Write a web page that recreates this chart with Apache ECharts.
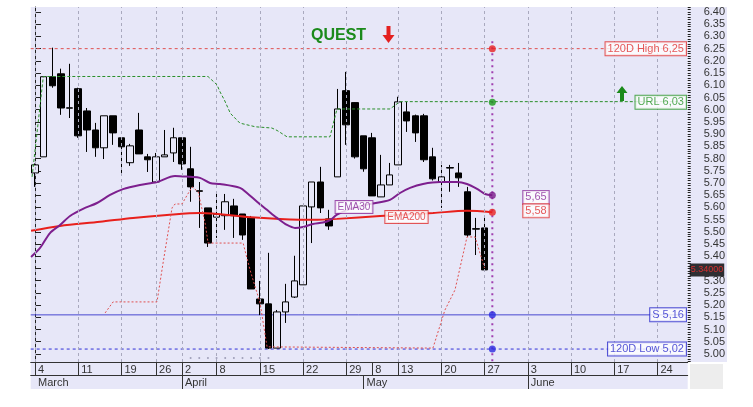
<!DOCTYPE html>
<html><head><meta charset="utf-8">
<script src="https://cdn.jsdelivr.net/npm/echarts@6/dist/echarts.min.js"></script>
<style>html,body{margin:0;padding:0;background:#fff}#c{width:753px;height:407px}</style>
</head><body><div id="c"></div>
<script>
// ---------- data ----------
const slotCount = 76;
const dayTicks = [[0,'4'],[5,'11'],[10,'19'],[14,'26'],[17,'2'],[21,'8'],[26,'15'],[31,'22'],[36,'29'],[39,'8'],[42,'13'],[47,'20'],[52,'27'],[57,'3'],[62,'10'],[67,'17'],[72,'24']];
const monthTicks = [[0,'March'],[17,'April'],[38,'May'],[57,'June']];
const gridLineSlots = [0,5,10,14,17,21,26,31,36,42,47,52,57,62,67,72];
const yMajorTicks = [5.00,5.05,5.10,5.15,5.20,5.25,5.30,5.35,5.40,5.45,5.50,5.55,5.60,5.65,5.70,5.75,5.80,5.85,5.90,5.95,6.00,6.05,6.10,6.15,6.20,6.25,6.30,6.35,6.40];
const yLabelTicks = [5.00,5.05,5.10,5.15,5.20,5.25,5.30,5.40,5.45,5.50,5.55,5.60,5.65,5.70,5.75,5.80,5.85,5.90,5.95,6.00,6.05,6.10,6.15,6.20,6.25,6.30,6.35,6.40];
// [open, close, low, high]
const candles = [
 [5.741,5.774,5.684,5.780],[5.807,6.135,5.807,6.135],[6.135,6.098,6.090,6.254],[6.147,6.007,5.979,6.168],
 [6.006,6.008,5.966,6.188],[6.086,5.893,5.885,6.090],[5.995,5.917,5.827,6.007],[5.917,5.844,5.807,5.946],
 [5.844,5.975,5.798,5.975],[5.975,5.905,5.856,5.975],[5.885,5.848,5.741,5.885],[5.783,5.852,5.770,5.860],
 [5.917,5.819,5.819,5.987],[5.807,5.795,5.745,5.819],[5.704,5.807,5.704,5.823],[5.807,5.815,5.807,5.917],
 [5.823,5.885,5.786,5.926],[5.885,5.778,5.754,5.885],[5.758,5.684,5.623,5.848],[5.668,5.666,5.516,5.704],
 [5.598,5.454,5.438,5.598],[5.560,5.572,5.475,5.659],[5.566,5.623,5.508,5.655],[5.606,5.566,5.475,5.635],
 [5.573,5.487,5.467,5.573],[5.557,5.266,5.266,5.565],[5.225,5.205,5.159,5.299],[5.205,5.024,5.020,5.414],
 [5.024,5.172,5.024,5.180],[5.172,5.213,5.127,5.287],[5.233,5.299,5.229,5.402],[5.283,5.606,5.283,5.606],
 [5.602,5.704,5.454,5.704],[5.704,5.598,5.577,5.766],[5.553,5.524,5.508,5.590],[5.725,6.003,5.725,6.085],
 [6.078,5.938,5.856,6.155],[6.029,5.807,5.800,6.030],[5.893,5.758,5.746,5.893],[5.885,5.647,5.647,5.905],
 [5.643,5.692,5.643,5.815],[5.692,5.733,5.692,5.782],[5.774,6.032,5.774,6.053],[5.991,5.954,5.909,6.032],
 [5.975,5.905,5.868,5.980],[5.975,5.795,5.786,5.983],[5.807,5.717,5.710,5.844],[5.704,5.725,5.598,5.774],
 [5.763,5.761,5.664,5.774],[5.741,5.721,5.684,5.782],[5.664,5.487,5.479,5.684],[5.513,5.511,5.405,5.557],
 [5.516,5.344,5.344,5.561]
];
const ema30 = [[-0.46,5.397],[0.58,5.434],[1.73,5.495],[2.89,5.528],[4.05,5.565],[5.55,5.594],[7.17,5.618],[8.68,5.651],
 [10.18,5.675],[12.14,5.692],[14.11,5.704],[16.19,5.729],[17.93,5.725],[19.08,5.721],[20.24,5.700],[21.39,5.696],
 [23.71,5.680],[24.52,5.659],[25.68,5.623],[26.83,5.590],[27.99,5.557],[29.15,5.528],[30.07,5.516],[31.0,5.520],
 [32.15,5.532],[33.31,5.538],[34.12,5.548],[34.93,5.570],[36.43,5.594],[38.75,5.614],[41.06,5.631],[42.22,5.659],
 [43.38,5.680],[44.88,5.696],[46.85,5.704],[48.81,5.704],[49.97,5.696],[51.13,5.676],[52.06,5.655],[52.9,5.650]];
const ema200 = [[-0.46,5.504],[2.89,5.524],[7.52,5.541],[11.33,5.557],[15.26,5.569],[19.08,5.577],[24.52,5.561],
 [28.34,5.553],[32.15,5.549],[34.93,5.553],[39.91,5.565],[46.04,5.577],[49.97,5.586],[52.9,5.580]];
const urlStop = [[-0.34,5.725],[0.96,6.136],[20.01,6.136],[21.05,6.102],[21.4,6.073],[21.9,6.040],[22.6,5.985],
 [23.7,5.945],[25.5,5.930],[27.4,5.925],[28.0,5.915],[29.15,5.889],[34.12,5.889],[34.93,6.003],[41.06,6.003],
 [42.22,6.033],[75.3,6.033]];
const lowStop = [[8.11,5.168],[9.03,5.213],[14.11,5.213],[14.81,5.372],[15.85,5.598],[16.2,5.614],[17.0,5.614],
 [18.16,5.684],[18.87,5.664],[19.67,5.537],[20.02,5.454],[24.07,5.454],[24.87,5.344],[26.03,5.209],[26.84,5.029],
 [46.03,5.024],[47.42,5.180],[48.58,5.262],[49.97,5.479],[50.9,5.479],[52.0,5.352]];
const signalDots = [18,19,20,21,22,23,24,25,26,27];
const high120 = 6.25, urlLevel = 6.03, supportLevel = 5.16, low120 = 5.02;
const ema30Last = 5.65, ema200Last = 5.58, lastPrice = 5.34;
const markerSlot = 52.9;

// ---------- chart ----------
const yMin = 4.967, yMax = 6.4205;
const FONT = 'Liberation Sans, Arial, sans-serif';
const LAV = '#e7e7f8';
const yMinorTicks = [];
for (let k = 497; k <= 642; k++) yMinorTicks.push(k / 100);
const cats = Array.from({length: slotCount}, (_, i) => String(i));
const dayMap = new Map(dayTicks);
const monMap = new Map(monthTicks);

const chart = echarts.init(document.getElementById('c'), null, {renderer: 'canvas'});

function hLine(v, color, type, x0) {
  return {type: 'line', xAxisIndex: 1, yAxisIndex: 0, z: 2, symbol: 'none', silent: true,
    data: [[x0 === undefined ? -0.5 : x0, v], [75.3, v]], lineStyle: {color: color, width: 1, type: type}};
}
function boxLabel(text, color, fs) {
  return {show: true, formatter: text, color: color, borderColor: color, borderWidth: 1,
    backgroundColor: '#fff', padding: [1, 2, 0, 2], fontSize: fs || 11, fontFamily: FONT, lineHeight: (fs || 11) + 1};
}

const option = {
  animation: false,
  backgroundColor: '#fff',
  graphic: [
    {type: 'rect', z: -10, shape: {x: 688, y: 7, width: 39, height: 355}, style: {fill: LAV}},
    {type: 'rect', z: -10, shape: {x: 30.7, y: 362, width: 657, height: 27}, style: {fill: LAV}},
    {type: 'rect', z: -10, shape: {x: 690, y: 364, width: 33, height: 25}, style: {fill: '#ededed'}},
    {type: 'text', z: 20, left: 311, top: 28, style: {text: 'QUEST', fill: '#1b8a1b', font: 'bold 16px ' + FONT}},
    {type: 'polygon', z: 20, shape: {points: [[386.5,26],[390.5,26],[390.5,35],[394.5,35],[388.5,43],[382.5,35],[386.5,35]]}, style: {fill: '#e42020'}},
    {type: 'polygon', z: 20, shape: {points: [[622,86],[627.5,93],[624,93],[624,101],[620,101],[620,93],[616.5,93]]}, style: {fill: '#1b8a1b'}}
  ],
  grid: {left: 30.7, top: 7, width: 657, height: 355, show: true, backgroundColor: LAV, borderWidth: 0},
  xAxis: [
    {type: 'category', data: cats, boundaryGap: true, position: 'bottom',
      axisLine: {show: true, lineStyle: {color: '#333', width: 1}},
      axisTick: {show: true, alignWithLabel: true, length: 13, interval: (i) => dayMap.has(i), lineStyle: {color: '#333'}},
      axisLabel: {show: true, interval: (i) => dayMap.has(i), formatter: (v, i) => dayMap.get(Number(v)) || '',
        align: 'left', margin: 2, padding: [0, 0, 0, 3], fontSize: 11, color: '#333', fontFamily: FONT},
      splitLine: {show: false}},
    {type: 'value', min: -0.5, max: 75.5, show: false},
    {type: 'category', data: cats, boundaryGap: true, position: 'bottom', offset: 13,
      axisLine: {show: true, lineStyle: {color: '#333', width: 1}},
      axisTick: {show: true, alignWithLabel: true, length: 14, interval: (i) => monMap.has(i) && i > 0, lineStyle: {color: '#333'}},
      axisLabel: {show: true, interval: (i) => monMap.has(i), formatter: (v) => monMap.get(Number(v)) || '',
        align: 'left', margin: 2, padding: [0, 0, 0, 3], fontSize: 11, color: '#333', fontFamily: FONT},
      splitLine: {show: false}}
  ],
  yAxis: [
    {type: 'value', position: 'right', min: yMin, max: yMax, scale: true,
      axisLine: {show: true, lineStyle: {color: '#222'}},
      axisTick: {show: true, inside: false, length: 6, customValues: yMajorTicks, lineStyle: {color: '#222'}},
      axisLabel: {show: true, customValues: yLabelTicks, formatter: (v) => v.toFixed(2), margin: 16,
        fontSize: 11, color: '#333', fontFamily: FONT},
      splitLine: {show: false}},
    {type: 'value', position: 'right', min: yMin, max: yMax, scale: true,
      axisLine: {show: false},
      axisTick: {show: true, inside: false, length: 3, customValues: yMinorTicks, lineStyle: {color: '#222'}},
      axisLabel: {show: false}, splitLine: {show: false}}
  ],
  series: [
    {type: 'line', xAxisIndex: 1, yAxisIndex: 0, data: [], z: 1, silent: true,
      markLine: {silent: true, symbol: ['none', 'none'], label: {show: false}, animation: false,
        lineStyle: {color: '#a9a9be', type: [3, 3], width: 1},
        data: gridLineSlots.map(i => ({xAxis: i}))}},
    hLine(high120, '#e05050', [3, 3]),
    hLine(supportLevel, '#4848d0', 'solid'),
    hLine(low120, '#3030d8', [3, 3]),
    {type: 'candlestick', xAxisIndex: 0, yAxisIndex: 0, z: 3, barWidth: 7, data: candles,
      itemStyle: {color: LAV, color0: '#000', borderColor: '#000', borderColor0: '#000', borderColorDoji: '#000', borderWidth: 1}},
    {type: 'line', xAxisIndex: 1, yAxisIndex: 0, z: 4, data: ema200, symbol: 'none', smooth: 0.3,
      lineStyle: {color: '#e8201c', width: 2}},
    {type: 'line', xAxisIndex: 1, yAxisIndex: 0, z: 4, data: ema30, symbol: 'none', smooth: 0.3,
      lineStyle: {color: '#7d1f8e', width: 2}},
    {type: 'line', xAxisIndex: 1, yAxisIndex: 0, z: 5, data: urlStop, symbol: 'none',
      lineStyle: {color: '#2a8f2a', width: 1, type: [3, 2]}},
    {type: 'line', xAxisIndex: 1, yAxisIndex: 0, z: 5, data: lowStop, symbol: 'none',
      lineStyle: {color: '#e05050', width: 1, type: [2, 2]}},
    {type: 'line', xAxisIndex: 1, yAxisIndex: 0, z: 5, data: [[markerSlot, 6.28], [markerSlot, yMin]], symbol: 'none',
      lineStyle: {color: '#a040b0', width: 2, type: [2, 4]}},
    {type: 'scatter', xAxisIndex: 0, yAxisIndex: 0, z: 5, symbolSize: 2, silent: true,
      data: signalDots.map(i => [i, 4.983]), itemStyle: {color: '#8c8ca8'}},
    {type: 'scatter', xAxisIndex: 1, yAxisIndex: 0, z: 6, symbolSize: 7, silent: true, clip: false,
      data: [
        {value: [markerSlot, high120], itemStyle: {color: '#e82020'}},
        {value: [markerSlot, urlLevel], itemStyle: {color: '#1a9a1a'}},
        {value: [markerSlot, ema30Last], itemStyle: {color: '#7a1a8a'}},
        {value: [markerSlot, ema200Last], itemStyle: {color: '#e82020'}},
        {value: [markerSlot, supportLevel], itemStyle: {color: '#2a2ae0'}},
        {value: [markerSlot, low120], itemStyle: {color: '#2a2ae0'}}
      ]},
    {type: 'scatter', xAxisIndex: 1, yAxisIndex: 0, z: 10, symbolSize: 0, silent: true, clip: false,
      label: {position: 'left', distance: 0},
      data: [
        {value: [75.3, high120], label: boxLabel('120D High 6,25', '#e03030')},
        {value: [75.3, urlLevel], label: boxLabel('URL 6,03', '#2a962a')},
        {value: [75.3, supportLevel], label: boxLabel('S 5,16', '#2a2acc')},
        {value: [75.3, low120], label: boxLabel('120D Low 5,02', '#2a2acc')}
      ]},
    {type: 'scatter', xAxisIndex: 1, yAxisIndex: 0, z: 10, symbolSize: 0, silent: true, clip: false,
      label: {position: 'inside'},
      data: [
        {value: [36.9, 5.602], label: boxLabel('EMA30', '#8a2a9a', 10)},
        {value: [42.97, 5.561], label: boxLabel('EMA200', '#e03030', 10)},
        {value: [57.95, 5.641], label: boxLabel('5,65', '#8a2a9a', 11)},
        {value: [57.95, 5.586], label: boxLabel('5,58', '#e03030', 11)}
      ]},
    {type: 'scatter', xAxisIndex: 1, yAxisIndex: 0, z: 10, symbolSize: 0, silent: true, clip: false,
      data: [{value: [75.5, lastPrice], label: {show: true, position: 'right', distance: 2, offset: [0, -1],
        formatter: lastPrice.toFixed(5), color: '#ff3030', backgroundColor: '#000', padding: [2, 1, 1, 1],
        fontSize: 9, fontFamily: FONT, lineHeight: 10}}]}
  ]
};
chart.setOption(option);
</script></body></html>
